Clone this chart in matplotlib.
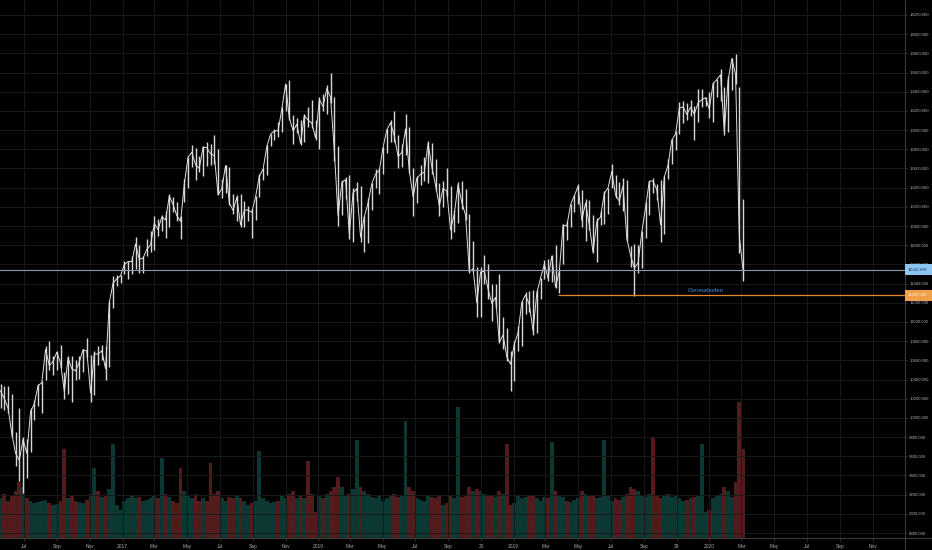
import matplotlib
matplotlib.use("Agg")
import matplotlib.pyplot as plt
import matplotlib.dates as mdates
import matplotlib.transforms as mtransforms
from matplotlib.patches import Rectangle
from matplotlib.lines import Line2D
import pandas as pd
import numpy as np

# weekly DAX bars, first week starts 2016-05-16
first_week = "2016-05-16"
first_open = 10150

week_low = [
    # 2016
    10100, 10080, 10050, 9800, 9500, 9340, 9214, 9370, 9640, 9980, 10120,
    10050, 10400, 10500, 10450, 10500, 10520, 10200, 10250, 10170, 10390, 10410,
    10480, 10620, 10170, 10240, 10550, 10600, 10400, 10530, 11150, 11380, 11410,
    # 2017
    11500, 11450, 11500, 11550, 11510, 11510, 11690, 11730, 11750, 11900, 11950,
    11880, 11990, 12150, 12050, 11860, 12250, 12400, 12620, 12480, 12560, 12520,
    12630, 12640, 12650, 12320, 12290, 12340, 12220, 12130, 12050, 11990, 11990,
    12050, 11870, 12060, 12300, 12480, 12530, 12830, 12900, 12930, 12980, 13200,
    13100, 12860, 12970, 12840, 12880, 13030, 13020, 12900,
    # 2018
    12800, 13200, 13170, 13280, 12680, 12000, 12110, 12280, 11860, 11830, 12260,
    11830, 11726, 11820, 12170, 12400, 12330, 12540, 12760, 12880, 12880, 12600,
    12620, 12740, 12550, 12100, 12240, 12430, 12470, 12450, 12540, 12370, 12100,
    12200, 12300, 11860, 11940, 12030, 12180, 12060, 11510, 11520, 11050, 11050,
    11400, 11240, 11010, 11150, 10780, 10720, 10590, 10279,
    # 2019
    10380, 10700, 10750, 11080, 11100, 10860, 10880, 11240, 11450, 11430, 11420,
    11350, 11300, 11600, 11850, 11990, 12150, 12230, 11990, 11840, 11960, 11720,
    11620, 12010, 12020, 12130, 12400, 12290, 12220, 12160, 11840, 11570, 11266,
    11510, 11560, 11870, 12120, 12340, 12270, 11830, 11920, 12490, 12650, 12790,
    12960, 13070, 13100, 13150, 12900, 13080, 13240, 13250,
    # 2020
    13130, 13080, 13350, 13300, 12950, 12980, 13420, 13480, 11720, 11430,
]

week_high = [
    # 2016
    10350, 10330, 10330, 10250, 9850, 10100, 9800, 9780, 10100, 10190, 10350,
    10380, 10750, 10800, 10650, 10700, 10760, 10480, 10650, 10650, 10600, 10650,
    10720, 10830, 10660, 10700, 10750, 10760, 10750, 11220, 11480, 11490, 11490,
    # 2017
    11640, 11640, 11690, 11890, 11800, 11690, 11860, 11950, 12100, 12070, 12110,
    12160, 12330, 12300, 12250, 12100, 12490, 12720, 12840, 12810, 12730, 12830,
    12880, 12850, 12950, 12800, 12490, 12640, 12620, 12330, 12320, 12330, 12260,
    12210, 12180, 12310, 12540, 12610, 12840, 12960, 13010, 13080, 13240, 13480,
    13525, 13160, 13130, 13110, 13170, 13240, 13310, 13100,
    # 2018
    13350, 13380, 13470, 13597, 13350, 12830, 12480, 12510, 12530, 12400, 12460,
    12420, 12100, 12290, 12450, 12590, 12600, 12820, 13010, 13110, 13204, 12950,
    12850, 13170, 13030, 12600, 12520, 12640, 12720, 12890, 12870, 12700, 12450,
    12470, 12600, 12420, 12170, 12460, 12470, 12390, 12130, 11840, 11570, 11570,
    11700, 11600, 11400, 11400, 11500, 11050, 10940, 10700,
    # 2019
    10800, 10960, 11220, 11310, 11320, 11330, 11330, 11460, 11650, 11660, 11700,
    11800, 11550, 12020, 12050, 12230, 12320, 12440, 12380, 12280, 12270, 12120,
    12080, 12160, 12360, 12400, 12650, 12530, 12460, 12500, 12480, 11790, 11810,
    11800, 11950, 12250, 12470, 12500, 12440, 12480, 12520, 12700, 12910, 12990,
    13290, 13300, 13280, 13310, 13250, 13430, 13430, 13340,
    # 2020
    13400, 13500, 13530, 13640, 13450, 13560, 13750, 13795, 13450, 12280,
]

week_close = [
    # 2016
    10280, 10200, 10103, 9834, 9631, 9557, 9776, 9629, 10066, 10147, 10337,
    10367, 10713, 10544, 10588, 10684, 10573, 10276, 10627, 10511, 10490, 10580,
    10711, 10696, 10259, 10668, 10664, 10700, 10513, 11203, 11404, 11450, 11481,
    # 2017
    11599, 11629, 11630, 11814, 11651, 11666, 11757, 11804, 12027, 11963, 12095,
    12064, 12313, 12225, 12109, 12049, 12438, 12717, 12770, 12639, 12602, 12823,
    12816, 12753, 12733, 12325, 12389, 12631, 12240, 12163, 12298, 12014, 12165,
    12168, 12142, 12304, 12519, 12592, 12829, 12956, 12992, 12991, 13218, 13479,
    13127, 12994, 13060, 12861, 13154, 13104, 13073, 12918,
    # 2018
    13320, 13245, 13434, 13340, 12785, 12107, 12452, 12483, 11914, 12346, 12390,
    11886, 12097, 12241, 12442, 12540, 12580, 12820, 13001, 13077, 12938, 12724,
    12766, 13011, 12580, 12306, 12496, 12541, 12561, 12860, 12616, 12424, 12211,
    12394, 12364, 11959, 12124, 12431, 12247, 12111, 11523, 11554, 11201, 11519,
    11529, 11341, 11193, 11257, 10788, 10865, 10634, 10559,
    # 2019
    10768, 10887, 11205, 11282, 11181, 10907, 11300, 11457, 11602, 11458, 11686,
    11364, 11526, 12010, 11999, 12222, 12315, 12413, 12060, 12239, 12011, 11727,
    12045, 12096, 12340, 12399, 12569, 12323, 12260, 12419, 11872, 11694, 11563,
    11612, 11939, 12192, 12469, 12468, 12381, 12013, 12512, 12634, 12895, 12961,
    13229, 13242, 13164, 13236, 13167, 13283, 13319, 13337,
    # 2020
    13219, 13483, 13526, 13577, 12982, 13514, 13745, 13579, 11890, 11542,
]

# weekly peak daily volume (million shares)
week_volume = [
    # 2016
    85, 95, 80, 90, 100, 120, 110, 85, 80, 75, 78, 80, 82, 75, 70, 72, 80,
    190, 85, 90, 80, 78, 75, 82, 95, 150, 100, 88, 90, 105, 200, 70, 60,
    # 2017
    80, 85, 90, 85, 88, 80, 82, 85, 90, 85, 170, 95, 88, 80, 75, 150, 100,
    90, 85, 95, 80, 85, 80, 160, 95, 100, 85, 80, 88, 85, 90, 85, 80, 70,
    75, 80, 185, 85, 80, 75, 78, 80, 90, 85, 95, 100, 85, 90, 85, 165, 95, 55,
    # 2018
    90, 85, 95, 100, 110, 130, 110, 90, 95, 105, 210, 110, 100, 95, 88, 85,
    90, 80, 85, 90, 95, 88, 92, 250, 110, 100, 85, 82, 80, 90, 88, 85, 90,
    70, 75, 90, 85, 280, 88, 90, 110, 100, 105, 100, 95, 90, 92, 88, 100, 95,
    200, 70,
    # 2019
    75, 90, 85, 88, 92, 90, 85, 80, 88, 85, 205, 100, 90, 88, 80, 78, 82, 85,
    100, 95, 90, 92, 85, 88, 210, 90, 80, 85, 82, 88, 95, 110, 105, 100, 90,
    88, 95, 215, 90, 85, 92, 95, 88, 90, 85, 80, 82, 85, 88, 92, 200, 55,
    # 2020
    60, 85, 90, 95, 110, 100, 88, 120, 290, 190,
]

last_close = 11541.87
corona_level = 11280.56
corona_start = "2019-03-25"
corona_label = "Coronaboden"

tick_dates = pd.date_range("2016-07-01", "2020-11-01", freq="2MS")
tick_labels = ["Jul", "Sep", "Nov", "2017", "Mar", "May", "Jul", "Sep", "Nov",
               "2018", "Mar", "May", "Jul", "Sep", "30", "2019", "Mar", "May",
               "Jul", "Sep", "29", "2020", "Mar", "May", "Jul", "Sep", "Nov"]

weeks = pd.date_range(first_week, periods=len(week_close), freq="7D")
x = mdates.date2num(weeks) + 2.0
opens = np.array([first_open] + week_close[:-1])
closes = np.array(week_close)
up = closes >= opens

BG = "#000000"
GRID = "#191919"
TXT = "#a8a8a8"
LINE = "#3a3a3a"
FONT = "Liberation Sans"

W, H = 932, 550
fig = plt.figure(figsize=(W / 100, H / 100), dpi=100, facecolor=BG)
pos = [0, 12 / H, 905 / W, 538 / H]

t0 = mdates.date2num(pd.Timestamp("2017-01-01"))
xlim = (t0 - 229.05, t0 + 1460.3)

# volume in the back
axv = fig.add_axes(pos)
axv.set_facecolor(BG)
vol_colors = np.where(up, "#26a69a", "#ef5350")
axv.bar(x, week_volume, width=7.0, color=vol_colors, alpha=0.34, linewidth=0)
axv.set_xlim(*xlim)
axv.set_ylim(0, 1150)
axv.axis("off")

# price on top
ax = fig.add_axes(pos)
ax.patch.set_visible(False)
ax.set_xlim(*xlim)
ax.set_ylim(8748, 14356)

ax.set_xticks(mdates.date2num(tick_dates))
ax.set_xticklabels(tick_labels)
ax.set_yticks(np.arange(8800, 14201, 200))
ax.yaxis.set_major_formatter(plt.FuncFormatter(lambda v, p: f"{v:.3f}"))
ax.yaxis.tick_right()
ax.grid(True, color=GRID, linewidth=0.7)
ax.set_axisbelow(True)
ax.tick_params(axis="x", colors=LINE, labelcolor=TXT, labelsize=3.5,
               length=2, width=0.6, pad=2)
ax.tick_params(axis="y", colors=LINE, labelcolor=TXT, labelsize=3.1,
               length=1.5, width=0.6, pad=1.5)
for lab in ax.get_xticklabels() + ax.get_yticklabels():
    lab.set_family(FONT)
for s in ax.spines.values():
    s.set_visible(False)

ax.vlines(x, week_low, week_high, color="#d8d8d8", linewidth=1.0)
ax.plot(x, week_close, color="#e0e0e0", linewidth=0.7)

# last price line and support line
ax.axhline(last_close, color="#8e9bb0", linewidth=0.8)
ax.hlines(corona_level, mdates.date2num(pd.Timestamp(corona_start)), xlim[1],
          color="#e8892a", linewidth=0.9)
ax.text(mdates.date2num(pd.Timestamp("2019-12-25")), corona_level + 52,
        corona_label, color="#4a8fd8", fontsize=4.3, ha="center", va="center",
        family=FONT)

# price axis boxes
bt = mtransforms.blended_transform_factory(fig.transFigure, ax.transData)
half = 5.5 / 0.09593
for val, fc, tc in [(last_close, "#8cc4f2", "#10345a"),
                    (corona_level, "#f0a04a", "#fff0dc")]:
    fig.add_artist(Rectangle((905 / W, val - half), 27 / W, 2 * half,
                             transform=bt, facecolor=fc, edgecolor="none",
                             zorder=5))
    fig.text(907.5 / W, val, f"{val:.3f}", transform=bt, color=tc,
             fontsize=3.1, ha="left", va="center", family=FONT, zorder=6)

# axis frame lines
fig.add_artist(Line2D([0, 1], [12 / H, 12 / H], color=LINE, linewidth=0.8))
fig.add_artist(Line2D([905 / W, 905 / W], [0, 1], color=LINE, linewidth=0.8))

fig.savefig("out.png", dpi=100, facecolor=BG)
